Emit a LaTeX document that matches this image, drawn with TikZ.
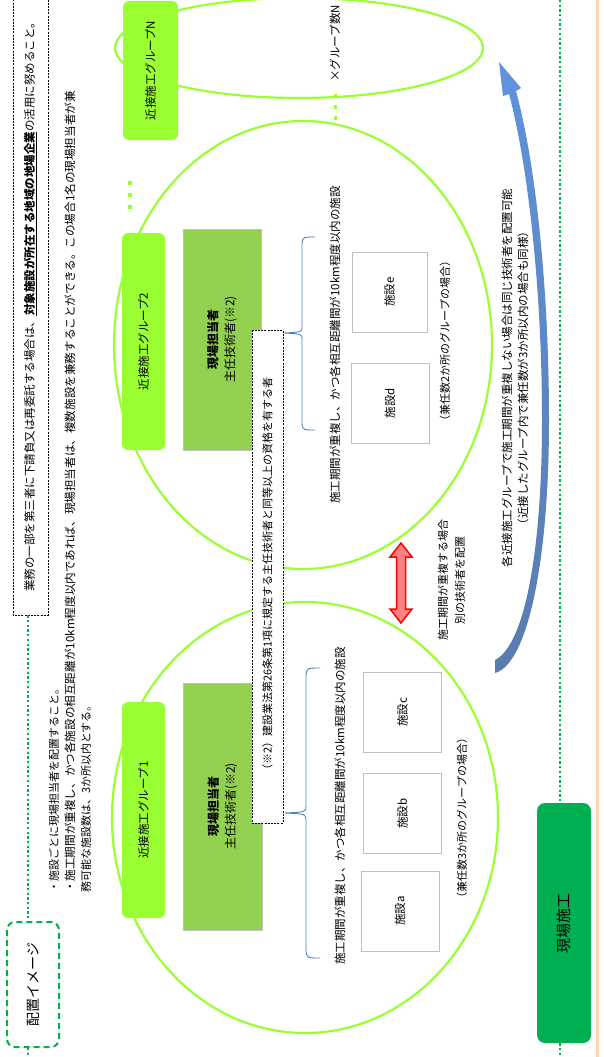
\documentclass[tikz,border=0pt]{standalone}
\usepackage{fontspec}
\setmainfont{Noto Sans CJK JP}
\definecolor{cLime}{HTML}{99FF33}
\definecolor{cOlive}{HTML}{92D050}
\definecolor{cGreen}{HTML}{00B050}
\definecolor{cGray}{HTML}{BFBFBF}
\definecolor{cBrace}{HTML}{4F81BD}
\definecolor{cPeach}{HTML}{FBD4B4}
\definecolor{cArrTop}{HTML}{5F93DC}
\definecolor{cArrBot}{HTML}{5A7BAE}
\definecolor{cPink}{HTML}{FF8080}
\begin{document}
\begin{tikzpicture}[x=1pt,y=-1pt,
  ell/.style={draw=cLime,line width=2.2pt},
  grp/.style={fill=cLime,rounded corners=6pt,rotate=90,inner sep=0pt,font=\fontsize{11.5}{14}\selectfont},
  tanto/.style={fill=cOlive,draw=cGray,line width=1pt,rotate=90,inner sep=0pt,align=center,font=\fontsize{12}{17}\selectfont},
  fac/.style={fill=white,draw=cGray,line width=1pt,rotate=90,inner sep=0pt,minimum width=80pt,minimum height=78pt,font=\fontsize{11.5}{14}\selectfont},
  notebox/.style={fill=white,draw=black,line width=0.6pt,dash pattern=on 2pt off 1.2pt,rotate=90,inner sep=0pt,font=\fontsize{11}{13}\selectfont},
  txt/.style={rotate=90,inner sep=0pt,font=\fontsize{11}{13}\selectfont},
  gdots/.style={draw=cGreen,line width=2.3pt,dash pattern=on 2.3pt off 2.4pt},
  brc/.style={draw=cBrace,line width=0.9pt},
  ldot/.style={fill=cLime}
]
\useasboundingbox (0,0) rectangle (604,1057);
% right edge line
\coordinate (pt) at (597,0);
\coordinate (pb) at (597,1057);
\draw[cPeach,line width=3pt] (pt) -- (pb);

% ellipses
\draw[ell] (299,48) ellipse [x radius=184, y radius=50];
\draw[ell] (303,345) ellipse [x radius=189, y radius=224];
\draw[ell] (305,817.5) ellipse [x radius=193, y radius=215.5];

% top dashed note
\node[notebox,minimum width=622pt,minimum height=35pt,font=\fontsize{11.5}{14}\selectfont] (topbox) at (30.5,304)
 {業務の一部を第三者に下請負又は再委託する場合は、\textbf{\underline{対象施設が所在する地域の地場企業}}の活用に努めること。};

% 配置イメージ
\node[draw=cGreen,fill=white,line width=2pt,dash pattern=on 6pt off 4pt,rounded corners=8pt,rotate=90,
  minimum width=125pt,minimum height=52pt,inner sep=0pt,font=\fontsize{14}{16}\selectfont] (haichi) at (33,984.5) {配置イメージ};

\coordinate (lx) at (28,0);
\coordinate (lb) at (28,1057);
\draw[gdots] (topbox.west -| lx) -- (haichi.east -| lx);
\draw[gdots] (haichi.west -| lb) -- (lb);

% explanatory lines
\node[txt,anchor=west] (t1) at (54,893) {・施設ごとに現場担当者を配置すること。};
\node[txt,anchor=west,font=\fontsize{11.6}{13}\selectfont] (t2) at (70,893) {・施工期間が重複し、かつ各施設の相互距離が10km程度以内であれば、現場担当者は、複数施設を兼務することができる。この場合1名の現場担当者が兼};
\node[txt,anchor=west] (t3) at (86,893) {務可能な施設数は、3か所以内とする。};

% group boxes
\node[grp,minimum width=139pt,minimum height=55pt] (gN) at (150.5,70.5) {近接施工グループN};
\node[grp,minimum width=217pt,minimum height=43pt] (g2) at (143.5,341.5) {近接施工グループ2};
\node[grp,minimum width=216pt,minimum height=43pt] (g1) at (143.5,810) {近接施工グループ1};

\foreach \yy in {183,195,207} \fill[ldot] (128,\yy-2) rectangle ++(4,4);
\foreach \yy in {96,107,118} \fill[ldot] (333.5,\yy-1.75) rectangle ++(3.5,3.5);

% 現場担当者 boxes
\node[tanto,minimum width=247pt,minimum height=79pt] (m1) at (222.5,806.5) {{\bfseries 現場担当者}\\主任技術者(※2)};
\node[tanto,minimum width=221pt,minimum height=78pt] (m2) at (222,339.5) {{\bfseries 現場担当者}\\主任技術者(※2)};

% note box
\node[notebox,minimum width=493pt,minimum height=31pt] (note) at (267.5,576.5)
 {（※2）建設業法第26条第1項に規定する主任技術者と同等以上の資格を有する者};

% braces
\draw[brc] (320,668) .. controls (307,668) .. (306,675) -- (306,806) .. controls (306,812) .. (285,813)
  .. controls (306,814) .. (306,820) -- (306,951) .. controls (307,958) .. (320,958);
\draw[brc] (315,237) .. controls (303,237) .. (302,243) -- (302,327) .. controls (302,332) .. (284,333)
  .. controls (302,334) .. (302,339) -- (302,424) .. controls (303,430) .. (315,430);

% descriptions
\node[txt,font=\fontsize{11.5}{14}\selectfont] (d1) at (340,806) {施工期間が重複し、かつ各相互距離間が10km程度以内の施設};
\node[txt,font=\fontsize{11.5}{14}\selectfont] (d2) at (335,345) {施工期間が重複し、かつ各相互距離間が10km程度以内の施設};

% facilities
\node[fac] (fa) at (400,911) {施設a};
\node[fac] (fb) at (402.5,813.5) {施設b};
\node[fac] (fc) at (402.5,712.5) {施設c};
\node[fac] (fd) at (390,403) {施設d};
\node[fac,minimum height=75pt] (fe) at (389.5,292) {施設e};

\node[txt] (k1) at (462,818) {（兼任数3か所のグループの場合）};
\node[txt] (k2) at (445,341) {（兼任数2か所のグループの場合）};

% red double arrow
\draw[red,line width=1.5pt,fill=cPink,line join=miter] (401,543) -- (412,557) -- (405.5,557) -- (405.5,609) -- (412,609)
  -- (401,623) -- (390,609) -- (396.5,609) -- (396.5,557) -- (390,557) -- cycle;
\node[txt,align=center,font=\fontsize{11}{17}\selectfont] (ov) at (451.5,580) {施工期間が重複する場合\\別の技術者を配置};

% blue curved arrow
\shade[top color=cArrTop,bottom color=cArrBot] (495,673) .. controls (528,664) and (549,560) .. (549,420)
  .. controls (549,290) and (536,165) .. (516,91) -- (521,88) -- (499,62) -- (503,96) -- (509,94)
  .. controls (528,165) and (542,290) .. (542,420) .. controls (542,550) and (525,645) .. (495,660) -- cycle;
\node[txt,align=center,font=\fontsize{11.5}{16}\selectfont] (bt) at (515,378)
 {各近接施工グループで施工期間が重複しない場合は同じ技術者を配置可能\\（近接したグループ内で兼任数が3か所以内の場合も同様）};

\node[txt,anchor=west,font=\fontsize{11.5}{14}\selectfont] (xn) at (335,82) {×グループ数N};

% 現場施工
\node[fill=cGreen,rounded corners=8pt,rotate=90,minimum width=240pt,minimum height=54pt,inner sep=0pt,
  font=\fontsize{15}{18}\selectfont] (genba) at (564,923) {現場施工};
\coordinate (rt) at (560,0);
\coordinate (rb) at (560,1057);
\draw[gdots] (rt) -- (genba.east -| rt);
\draw[gdots] (genba.west -| rb) -- (rb);
\end{tikzpicture}
\end{document}
